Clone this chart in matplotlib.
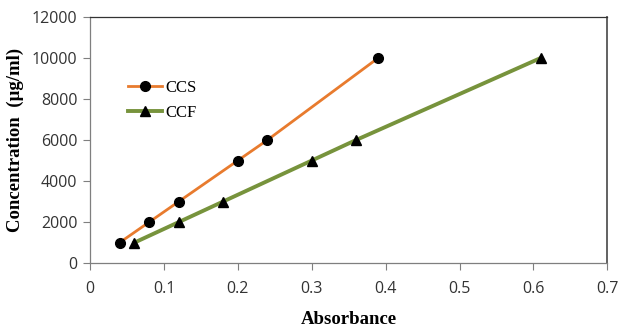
import matplotlib
matplotlib.use("Agg")
import matplotlib.pyplot as plt

ccs_x = [0.04, 0.08, 0.12, 0.20, 0.24, 0.39]
ccs_y = [1000, 2000, 3000, 5000, 6000, 10000]
ccf_x = [0.06, 0.12, 0.18, 0.30, 0.36, 0.61]
ccf_y = [1000, 2000, 3000, 5000, 6000, 10000]
x_ticks = [0, 0.1, 0.2, 0.3, 0.4, 0.5, 0.6, 0.7]
x_labels = ["0", "0.1", "0.2", "0.3", "0.4", "0.5", "0.6", "0.7"]
y_ticks = [0, 2000, 4000, 6000, 8000, 10000, 12000]

fig = plt.figure(figsize=(6.21, 3.31), dpi=100)
ax = fig.add_axes([0.145, 0.205, 0.833, 0.744])

ax.plot(ccs_x, ccs_y, color="#E87B2E", lw=2.0, marker="o", ms=7,
        mfc="black", mec="black", label="CCS", zorder=3)
ax.plot(ccf_x, ccf_y, color="#77933C", lw=2.8, marker="^", ms=7.5,
        mfc="black", mec="black", label="CCF", zorder=3)

ax.set_xlim(0, 0.7)
ax.set_ylim(0, 12000)
ax.set_xticks(x_ticks)
ax.set_xticklabels(x_labels)
ax.set_yticks(y_ticks)
for s in ax.spines.values():
    s.set_color("#7f7f7f")
    s.set_linewidth(0.9)
ax.spines["top"].set_color("#333333")
ax.spines["right"].set_color("#555555")
ax.spines["right"].set_linewidth(1.3)
ax.tick_params(direction="out", length=5, width=0.8, color="#7f7f7f",
               labelsize=11.5, labelcolor="#333333")
ax.tick_params(axis="x", pad=8)
ax.tick_params(axis="y", pad=4)
for lab in ax.get_xticklabels() + ax.get_yticklabels():
    lab.set_family("Open Sans")

ax.set_xlabel("Absorbance", family="Liberation Serif", fontweight="bold",
              fontsize=13.5, labelpad=10)
ax.set_ylabel("Concentration  (µg/ml)", family="Liberation Serif",
              fontweight="bold", fontsize=13.5, labelpad=6)

leg = ax.legend(loc="upper left", bbox_to_anchor=(0.045, 0.805), frameon=False,
                prop={"family": "Liberation Serif", "size": 12},
                handlelength=2.0, handletextpad=0.2, labelspacing=0.55)

fig.savefig("out.png", dpi=100)
